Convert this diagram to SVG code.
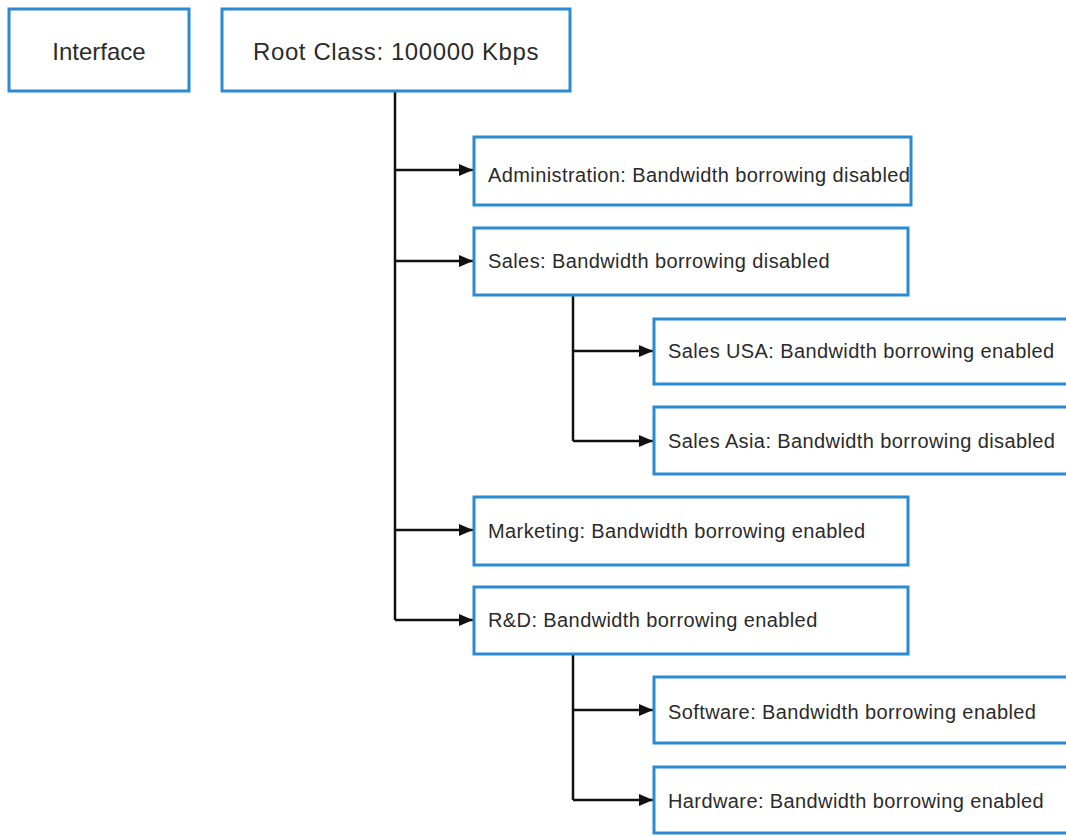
<svg xmlns="http://www.w3.org/2000/svg" width="1066" height="837" viewBox="0 0 1066 837">
<style>
.box{fill:#fff;stroke:#2a8bd4;stroke-width:3}
.t{font-family:"Liberation Sans",Arial,sans-serif;fill:#2b2b2b}
.big{font-size:24px}
.sm{font-size:20px;letter-spacing:0.4px}
.c{fill:none;stroke:#111;stroke-width:2.5}
</style>
<defs>
<marker id="ah" viewBox="0 0 14 12" refX="14" refY="6" markerWidth="14" markerHeight="12" markerUnits="userSpaceOnUse" orient="auto">
<path d="M0,0 L14,6 L0,12 Z" fill="#111"/>
</marker>
</defs>
<rect width="1066" height="837" fill="#fff"/>
<g id="connectors">
<path class="c" d="M395,91 V620"/>
<path class="c" d="M395,170 H473" marker-end="url(#ah)"/>
<path class="c" d="M395,261 H473" marker-end="url(#ah)"/>
<path class="c" d="M395,530 H473" marker-end="url(#ah)"/>
<path class="c" d="M395,620 H473" marker-end="url(#ah)"/>
<path class="c" d="M573,295 V441"/>
<path class="c" d="M573,351 H653" marker-end="url(#ah)"/>
<path class="c" d="M573,441 H653" marker-end="url(#ah)"/>
<path class="c" d="M573,654 V800"/>
<path class="c" d="M573,710 H653" marker-end="url(#ah)"/>
<path class="c" d="M573,800 H653" marker-end="url(#ah)"/>
</g>
<g id="interface">
<rect class="box" x="9" y="9" width="180" height="82"/>
<text class="t big" x="99" y="60" text-anchor="middle">Interface</text>
</g>
<g id="root">
<rect class="box" x="222" y="9" width="348" height="82"/>
<text class="t big" x="396" y="60" text-anchor="middle" letter-spacing="0.6">Root Class: 100000 Kbps</text>
</g>
<g id="administration">
<rect class="box" x="474" y="137" width="437" height="68"/>
<text class="t sm" x="488" y="182">Administration: Bandwidth borrowing disabled</text>
</g>
<g id="sales">
<rect class="box" x="474" y="228" width="434" height="67"/>
<text class="t sm" x="488" y="268">Sales: Bandwidth borrowing disabled</text>
</g>
<g id="sales-usa">
<rect class="box" x="654" y="319" width="420" height="65"/>
<text class="t sm" x="668" y="358">Sales USA: Bandwidth borrowing enabled</text>
</g>
<g id="sales-asia">
<rect class="box" x="654" y="407" width="420" height="67"/>
<text class="t sm" x="668" y="448">Sales Asia: Bandwidth borrowing disabled</text>
</g>
<g id="marketing">
<rect class="box" x="474" y="497" width="434" height="68"/>
<text class="t sm" x="488" y="538">Marketing: Bandwidth borrowing enabled</text>
</g>
<g id="rnd">
<rect class="box" x="474" y="587" width="434" height="67"/>
<text class="t sm" x="488" y="627">R&amp;D: Bandwidth borrowing enabled</text>
</g>
<g id="software">
<rect class="box" x="654" y="677" width="420" height="66"/>
<text class="t sm" x="668" y="719">Software: Bandwidth borrowing enabled</text>
</g>
<g id="hardware">
<rect class="box" x="654" y="767" width="420" height="66"/>
<text class="t sm" x="668" y="808">Hardware: Bandwidth borrowing enabled</text>
</g>
</svg>
